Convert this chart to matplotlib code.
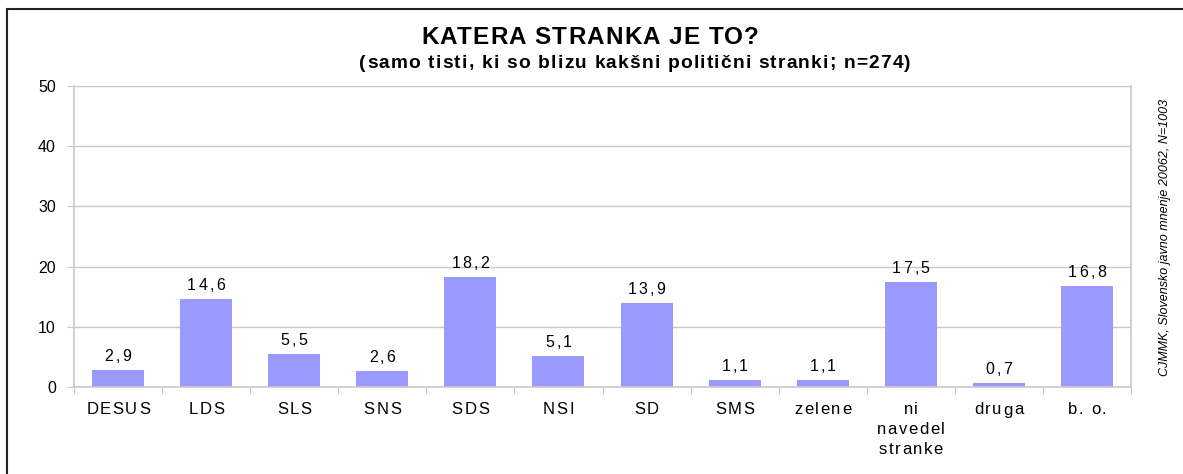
import matplotlib
matplotlib.use('Agg')
import matplotlib.pyplot as plt
from matplotlib.patches import Rectangle
from matplotlib.font_manager import FontProperties

plt.rcParams['font.family'] = ['Liberation Sans', 'DejaVu Sans']

stranke = ['DESUS', 'LDS', 'SLS', 'SNS', 'SDS', 'NSI', 'SD', 'SMS', 'zelene',
           'ni\nnavedel\nstranke', 'druga', 'b. o.']
odstotki = [2.9, 14.6, 5.5, 2.6, 18.2, 5.1, 13.9, 1.1, 1.1, 17.5, 0.7, 16.8]
oznake = ['2,9', '14,6', '5,5', '2,6', '18,2', '5,1', '13,9', '1,1', '1,1', '17,5', '0,7', '16,8']

W, H = 1183, 474
fig = plt.figure(figsize=(W / 100, H / 100), dpi=100)
ax = fig.add_axes([74 / W, 1 - 387 / H, (1131 - 74) / W, (387 - 86) / H])
renderer = fig.canvas.get_renderer()


def sirina(s, fp):
    w, h, d = renderer.get_text_width_height_descent(s, fp, ismath=False)
    return w


def razmaknjeno(xp, yp, s, razmik, fp, va='baseline'):
    # besedilo z razmikom med črkami, xp = sredina v pikslih, yp = od vrha
    skupaj = sirina(s, fp) + razmik * (len(s) - 1)
    zac = xp - skupaj / 2
    for i, c in enumerate(s):
        if c == ' ':
            continue
        off = sirina(s[:i + 1], fp) - sirina(c, fp)
        fig.text((zac + off + i * razmik) / W, 1 - yp / H, c, fontproperties=fp,
                 ha='left', va=va)


# okvir slike
fig.patches.append(Rectangle((7 / W, -0.1), 1.2, 1 - 9.5 / H + 0.1,
                             transform=fig.transFigure, fill=False,
                             edgecolor='#222222', linewidth=1.5))

x = range(len(stranke))
ax.bar(x, odstotki, width=0.59, color='#9999FF', zorder=2)

ax.set_xlim(-0.5, len(stranke) - 0.5)
ax.set_ylim(0, 50)
ax.set_yticks(range(0, 51, 10))
ax.yaxis.grid(True, color='#c8c8c8', linewidth=1, zorder=0)
ax.tick_params(axis='y', length=5, color='#c8c8c8', labelsize=11.5, pad=8)
for t in ax.get_yticklabels():
    t.set_fontproperties(FontProperties(family='Liberation Sans', size=11.5))

ax.set_xticks([i + 0.5 for i in range(-1, len(stranke))])
ax.set_xticklabels([])
ax.tick_params(axis='x', length=5, color='#c8c8c8')

for s in ['left', 'bottom', 'right']:
    ax.spines[s].set_color('#c8c8c8')
    ax.spines[s].set_linewidth(1.2)
ax.spines['top'].set_visible(False)

fp_vred = FontProperties(family='Liberation Sans', size=11.5)
fp_kat = FontProperties(family='Liberation Sans', size=12)
for i, v in enumerate(odstotki):
    px, py = ax.transData.transform((i, v))
    razmaknjeno(px, H - py - 9, oznake[i], 2.3, fp_vred)
    for j, vrstica in enumerate(stranke[i].split('\n')):
        razmaknjeno(px, 414.5 + j * 19.5, vrstica, 1.6, fp_kat)

razmaknjeno(590, 44, 'KATERA STRANKA JE TO?', 1.2,
            FontProperties(family='Liberation Sans', size=17.5, weight='bold'))
razmaknjeno(635, 67.5, '(samo tisti, ki so blizu kakšni politični stranki; n=274)', 1.2,
            FontProperties(family='Liberation Sans', size=13.8, weight='bold'))
fig.text(1165 / W, 1 - 237 / H, 'CJMMK, Slovensko javno mnenje 20062, N=1003',
         rotation=90, ha='center', va='center', fontsize=9, style='italic')

fig.savefig('out.png', dpi=100)
